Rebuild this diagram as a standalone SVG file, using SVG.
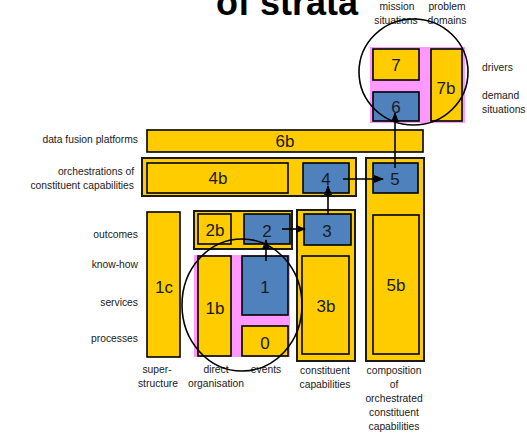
<svg xmlns="http://www.w3.org/2000/svg" width="527" height="433" viewBox="0 0 527 433">
<defs>
<marker id="ah" markerWidth="10" markerHeight="10" refX="9" refY="5" orient="auto" markerUnits="userSpaceOnUse">
<path d="M0,1 L10,5 L0,9 Z" fill="#000"/>
</marker>
<style>
.y{fill:#FFCC00;stroke:#000;stroke-width:1.6}
.b{fill:#4F81BD;stroke:#000;stroke-width:1.6}
.c{fill:#FFCC00;stroke:#1a1a1a;stroke-width:2}
.p{fill:#FF99FF;stroke:none}
.n{font-family:"Liberation Sans",Arial,sans-serif;font-size:17px;fill:#1a1a1a;text-anchor:middle;dominant-baseline:central}
.l{font-family:"Liberation Sans",Arial,sans-serif;font-size:10.3px;fill:#1a1a1a}
.r{text-anchor:end}
.m{text-anchor:middle}
.e{fill:none;stroke:#000;stroke-width:1.6}
.a{stroke:#000;stroke-width:1.6;fill:none;marker-end:url(#ah)}
</style>
</defs>
<rect width="527" height="433" fill="#fff"/>
<text x="287" y="15" font-family="Liberation Sans,Arial,sans-serif" font-size="36" font-weight="bold" text-anchor="middle" fill="#000">of strata</text>

<g id="labels">
<text class="l m" x="397" y="10">mission</text>
<text class="l m" x="396" y="24">situations</text>
<text class="l m" x="447" y="10">problem</text>
<text class="l m" x="447" y="24">domains</text>
<text class="l" x="482" y="71">drivers</text>
<text class="l" x="482" y="99">demand</text>
<text class="l" x="482" y="113">situations</text>
<text class="l r" x="138" y="143">data fusion platforms</text>
<text class="l r" x="134" y="175">orchestrations of</text>
<text class="l r" x="134" y="189">constituent capabilities</text>
<text class="l r" x="138" y="238">outcomes</text>
<text class="l r" x="138" y="268">know-how</text>
<text class="l r" x="138" y="306">services</text>
<text class="l r" x="138" y="342">processes</text>
<text class="l m" x="157" y="373">super-</text>
<text class="l m" x="158" y="387">structure</text>
<text class="l m" x="216" y="373">direct</text>
<text class="l m" x="216" y="387">organisation</text>
<text class="l m" x="266" y="373">events</text>
<text class="l m" x="325" y="374">constituent</text>
<text class="l m" x="325" y="388">capabilities</text>
<text class="l m" x="394" y="374">composition</text>
<text class="l m" x="394" y="388">of</text>
<text class="l m" x="394" y="402">orchestrated</text>
<text class="l m" x="394" y="416">constituent</text>
<text class="l m" x="394" y="430">capabilities</text>
</g>

<g id="pink-top"><rect class="p" x="370" y="47" width="95" height="76"/></g>
<g id="pink-bottom"><rect class="p" x="194" y="255" width="96" height="102"/></g>

<g id="n7"><rect class="y" x="373" y="49" width="46" height="31"/><text class="n" x="396" y="65">7</text></g>
<g id="n7b"><rect class="y" x="431" y="49" width="31" height="72"/><text class="n" x="446" y="88">7b</text></g>
<g id="n6"><rect class="b" x="373" y="92" width="46" height="29"/><text class="n" x="396" y="107">6</text></g>

<g id="n6b"><rect class="y" x="147" y="130" width="276" height="22"/><text class="n" x="285" y="141">6b</text></g>

<g id="orch"><rect class="c" x="142" y="158" width="214" height="38"/></g>
<g id="n4b"><rect class="y" x="147" y="163" width="141" height="30"/><text class="n" x="218" y="178">4b</text></g>
<g id="n4"><rect class="b" x="303" y="163" width="46" height="30"/><text class="n" x="326" y="179">4</text></g>

<g id="col5"><rect class="c" x="366" y="158" width="58" height="203"/></g>
<g id="n5"><rect class="b" x="373" y="163" width="45" height="30"/><text class="n" x="395" y="179">5</text></g>
<g id="n5b"><rect class="y" x="373" y="215" width="46" height="139"/><text class="n" x="396" y="285">5b</text></g>

<g id="col3"><rect class="c" x="297" y="210" width="58" height="151"/></g>
<g id="n3"><rect class="b" x="304" y="214" width="47" height="31"/><text class="n" x="327" y="231">3</text></g>
<g id="n3b"><rect class="y" x="302" y="256" width="47" height="98"/><text class="n" x="326" y="306">3b</text></g>

<g id="row2"><rect class="c" x="194" y="211" width="98" height="38"/></g>
<g id="n2b"><rect class="y" x="198" y="214" width="33" height="30"/><text class="n" x="215" y="230">2b</text></g>
<g id="n2"><rect class="b" x="244" y="214" width="46" height="30"/><text class="n" x="267" y="231">2</text></g>

<g id="n1c"><rect class="y" x="147" y="212" width="33" height="145"/><text class="n" x="164" y="287">1c</text></g>
<g id="n1b"><rect class="y" x="198" y="256" width="33" height="100"/><text class="n" x="215" y="308">1b</text></g>
<g id="n1"><rect class="b" x="242" y="256" width="46" height="59"/><text class="n" x="265" y="287">1</text></g>
<g id="n0"><rect class="y" x="242" y="326" width="46" height="30"/><text class="n" x="265" y="343">0</text></g>

<g id="ellipses">
<ellipse class="e" cx="413.5" cy="72" rx="54.5" ry="53"/>
<ellipse class="e" cx="242" cy="305" rx="60" ry="66"/>
</g>

<g id="connectors">
<line class="a" x1="266" y1="261" x2="266" y2="240"/>
<line class="a" x1="282" y1="229" x2="305" y2="229"/>
<line class="a" x1="328" y1="215" x2="328" y2="186"/>
<line class="a" x1="343" y1="179" x2="383" y2="179"/>
<line class="a" x1="395" y1="168" x2="395" y2="113"/>
</g>
</svg>
